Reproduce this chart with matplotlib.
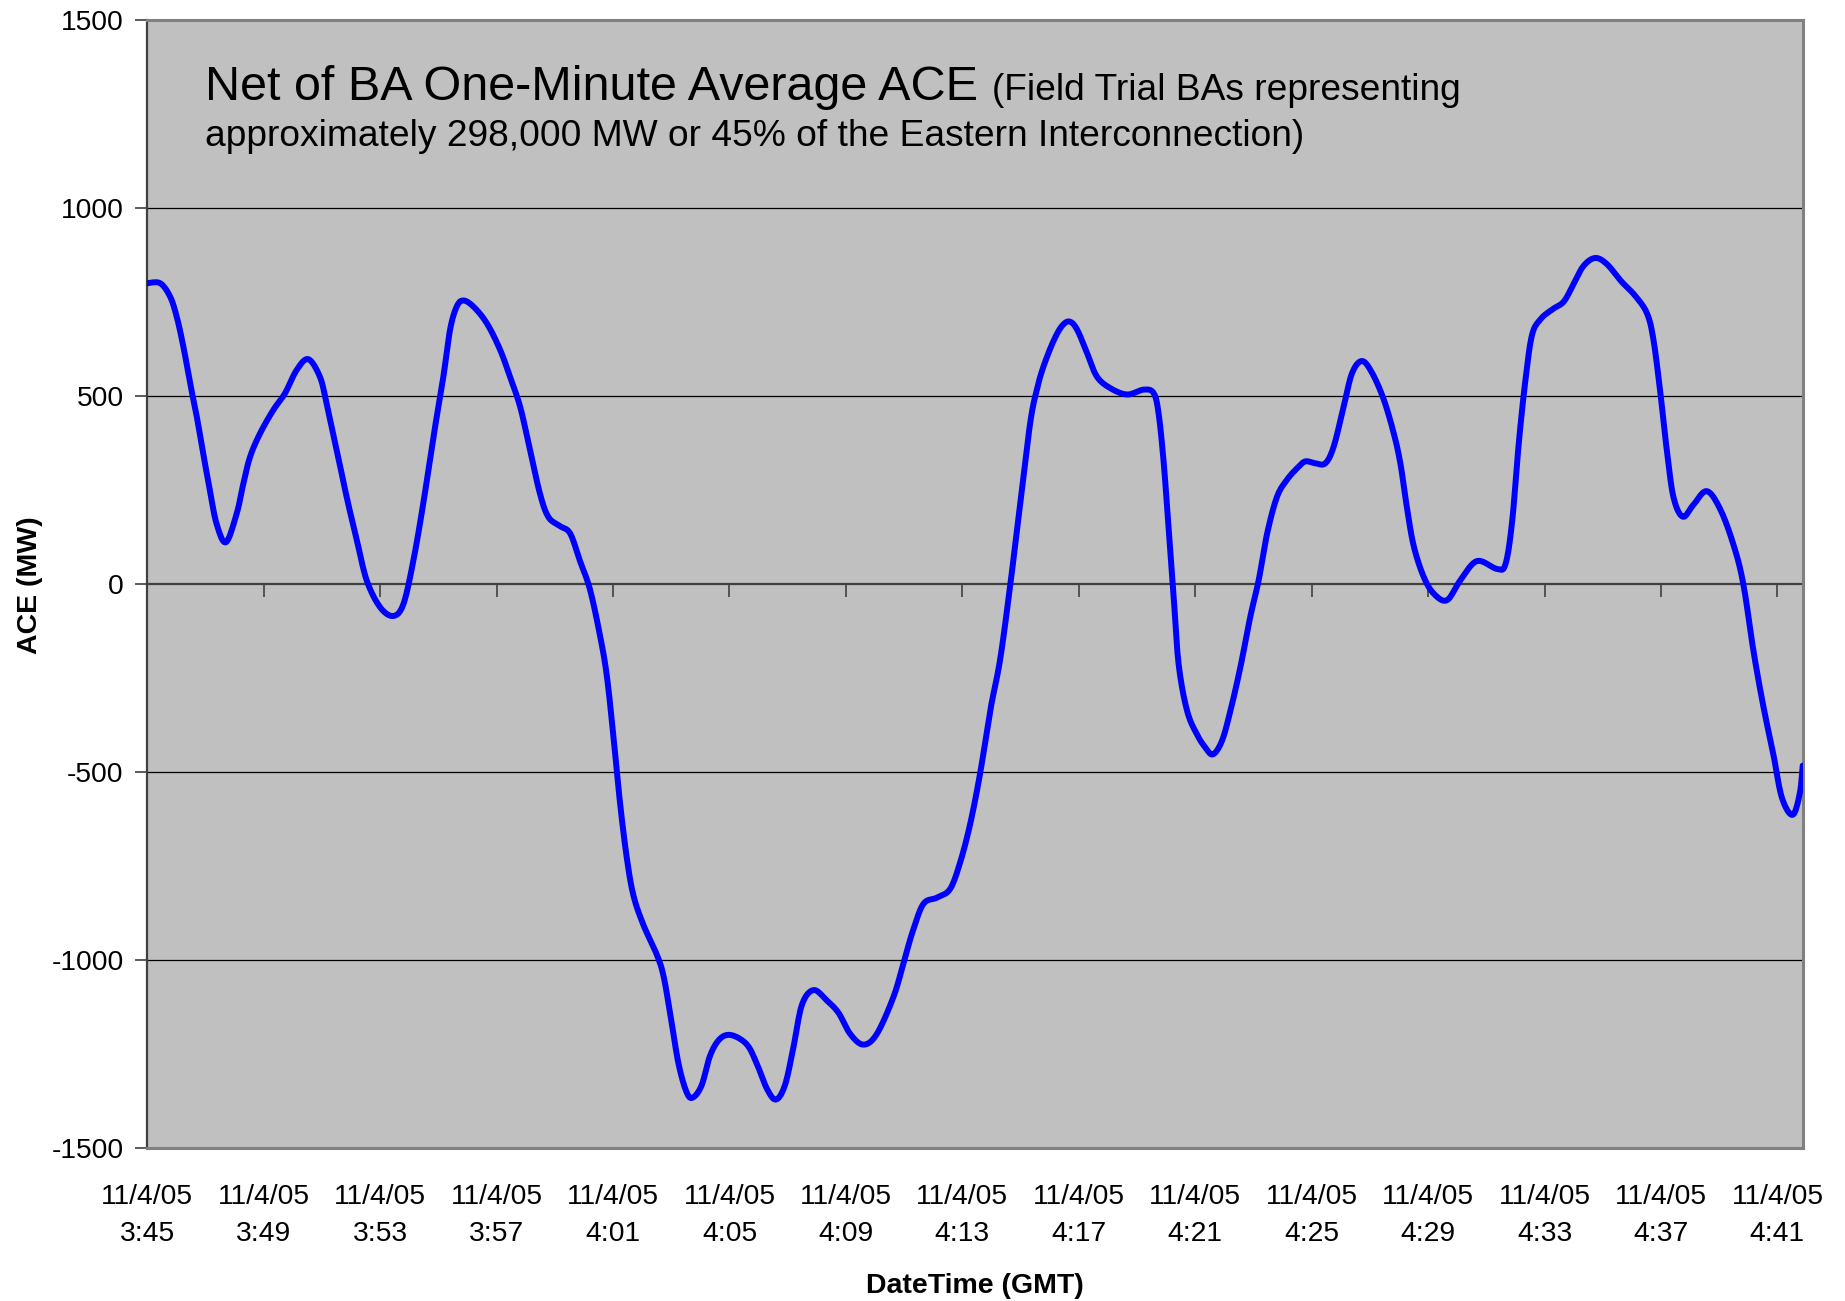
import numpy as np
import matplotlib
matplotlib.use("Agg")
import matplotlib.pyplot as plt

plt.rcParams['font.family'] = ['Liberation Sans', 'DejaVu Sans']

# minutes after 11/4/05 3:45 GMT
minutes = [0.00, 0.44, 0.78, 1.01, 1.24, 1.47, 1.70, 1.92, 2.15, 2.38, 2.70, 3.07, 3.30, 3.53,
           3.87, 4.33, 4.73, 5.13, 5.53, 5.93, 6.16, 6.51, 6.85, 7.20, 7.54, 8.00, 8.45, 8.80,
           9.14, 9.48, 9.83, 10.17, 10.40, 10.63, 10.86, 11.20, 11.66, 12.12, 12.46, 12.81,
           13.15, 13.49, 13.78, 14.18, 14.53, 14.87, 15.21, 15.56, 15.79, 16.01, 16.24, 16.47,
           16.70, 17.04, 17.50, 17.73, 17.96, 18.25, 18.54, 18.76, 19.05, 19.34, 19.68, 20.08,
           20.60, 20.94, 21.29, 21.60, 21.91, 22.20, 22.49, 22.89, 23.35, 23.75, 24.15, 24.60,
           25.06, 25.64, 25.98, 26.32, 26.67, 27.13, 27.58, 27.93, 28.27, 28.61, 28.96, 29.30,
           29.65, 29.99, 30.33, 30.56, 30.79, 31.13, 31.42, 31.68, 31.94, 32.28, 32.62, 33.08,
           33.66, 34.23, 34.57, 34.74, 34.92, 35.09, 35.26, 35.43, 35.72, 36.06, 36.35, 36.61,
           36.92, 37.21, 37.55, 37.89, 38.18, 38.47, 38.81, 39.15, 39.50, 39.78, 40.13, 40.47,
           40.76, 41.10, 41.39, 41.73, 42.08, 42.48, 42.82, 43.05, 43.28, 43.51, 43.85, 44.20,
           44.65, 45.11, 45.68, 46.37, 46.66, 46.89, 47.12, 47.35, 47.57, 47.86, 48.26, 48.66,
           49.00, 49.34, 49.74, 50.14, 50.65, 51.11, 51.52, 51.74, 51.97, 52.20, 52.43, 52.75,
           53.11, 53.57, 54.03, 54.49, 54.83, 55.18, 55.52, 55.86, 56.15, 56.52, 56.77, 56.87]

ace_mw = [800, 800, 765, 711, 631, 534, 445, 347, 249, 160, 111, 187, 267, 338,
          400, 463, 507, 569, 598, 551, 480, 356, 231, 116, 9, -62, -85, -53,
          62, 214, 391, 551, 676, 738, 754, 738, 694, 623, 551, 471,
          356, 240, 178, 154, 134, 60, -15, -140, -246, -403, -582, -727,
          -828, -906, -985, -1041, -1141, -1276, -1354, -1365, -1332, -1253, -1209, -1200,
          -1225, -1276, -1343, -1371, -1332, -1231, -1119, -1080, -1108, -1141, -1197, -1225,
          -1197, -1097, -1007, -918, -850, -834, -811, -739, -638, -504, -336, -200,
          0, 215, 428, 517, 579, 646, 686, 698, 677, 615, 552, 521,
          504, 517, 508, 455, 321, 143, -35, -213, -337, -400, -435, -453,
          -417, -337, -222, -88, 10, 134, 232, 277, 308, 326, 321, 321,
          366, 472, 561, 593, 561, 490, 401, 320, 200, 100, 19, -26,
          -43, 10, 61, 40, 53, 168, 378, 546, 662, 704, 730, 751,
          798, 846, 867, 851, 804, 767, 720, 651, 515, 357, 231, 179,
          210, 247, 200, 105, 0, -179, -326, -452, -567, -614, -557, -483]

tick_date = "11/4/05"
tick_times = ["3:45", "3:49", "3:53", "3:57", "4:01", "4:05", "4:09", "4:13",
              "4:17", "4:21", "4:25", "4:29", "4:33", "4:37", "4:41"]
y_ticks = [-1500, -1000, -500, 0, 500, 1000, 1500]


def to_minutes(hm):
    h, m = hm.split(":")
    return (int(h) - 3) * 60 + int(m) - 45


def smooth(xs, ys, n=10):
    # excel style smoothed line (catmull-rom through the points)
    p = np.column_stack([xs, ys]).astype(float)
    p = np.vstack([p[0], p, p[-1]])
    t = np.linspace(0, 1, n, endpoint=False)[:, None]
    out = []
    for i in range(1, len(p) - 2):
        p0, p1, p2, p3 = p[i - 1], p[i], p[i + 1], p[i + 2]
        out.append(0.5 * (2 * p1 + (p2 - p0) * t
                          + (2 * p0 - 5 * p1 + 4 * p2 - p3) * t ** 2
                          + (3 * p1 - p0 - 3 * p2 + p3) * t ** 3))
    out.append(p[-2][None])
    s = np.vstack(out)
    return s[:, 0], s[:, 1]


W, H = 1845, 1301
fig = plt.figure(figsize=(W / 100, H / 100), dpi=100)
ax = fig.add_axes([147.3 / W, 1 - 1148 / H, (1802.7 - 147.3) / W, (1148 - 20) / H])
ax.set_facecolor('#C0C0C0')

tick_pos = [to_minutes(t) for t in tick_times]
ax.set_xlim(0, 56.87)
ax.set_ylim(-1500, 1500)

for v in y_ticks:
    if v not in (-1500, 0, 1500):
        ax.axhline(v, color='black', lw=0.9, zorder=1)

sx, sy = smooth(minutes, ace_mw)
ax.plot(sx, sy, color='#0000FF', lw=4.3, solid_capstyle='round', zorder=3)

# frame
for side in ('top', 'right', 'bottom'):
    ax.spines[side].set_color('#808080')
    ax.spines[side].set_linewidth(2.2)
ax.spines['left'].set_color('#404040')
ax.spines['left'].set_linewidth(1.6)

ax.set_yticks(y_ticks)
ax.set_yticklabels([str(v) for v in y_ticks])
ax.tick_params(axis='y', length=9, width=1.2, color='#404040', pad=8, labelsize=20.3)

ax.set_xticks(tick_pos)
ax.set_xticklabels([tick_date + "\n" + t for t in tick_times], linespacing=1.55)
ax.tick_params(axis='x', length=0, pad=26, labelsize=20.3)

# the category axis crosses at zero
zero_ax = ax.secondary_xaxis(0.49999)
zero_ax.spines['bottom'].set_color('#404040')
zero_ax.spines['bottom'].set_linewidth(1.6)
zero_ax.set_xticks(tick_pos)
zero_ax.tick_params(axis='x', length=9, width=1.2, color='#404040', direction='out',
                    labelbottom=False, labeltop=False)

# title inside the plot area
ax.text(0.0347, 0.929, "Net of BA One-Minute Average ACE", transform=ax.transAxes,
        fontsize=34.9, va='baseline', ha='left')
ax.text(0.510, 0.929, "(Field Trial BAs representing", transform=ax.transAxes,
        fontsize=26.7, va='baseline', ha='left')
ax.text(0.0347, 0.888, "approximately 298,000 MW or 45% of the Eastern Interconnection)",
        transform=ax.transAxes, fontsize=26.7, va='baseline', ha='left')

fig.text(30 / W, 1 - 585 / H, "ACE (MW)", rotation=90, ha='center', va='center',
         fontsize=20.5, fontweight='bold')
fig.text(975 / W, 1 - 1286 / H, "DateTime (GMT)", ha='center', va='center',
         fontsize=20.5, fontweight='bold')

fig.savefig("out.png", dpi=100, facecolor='white')
